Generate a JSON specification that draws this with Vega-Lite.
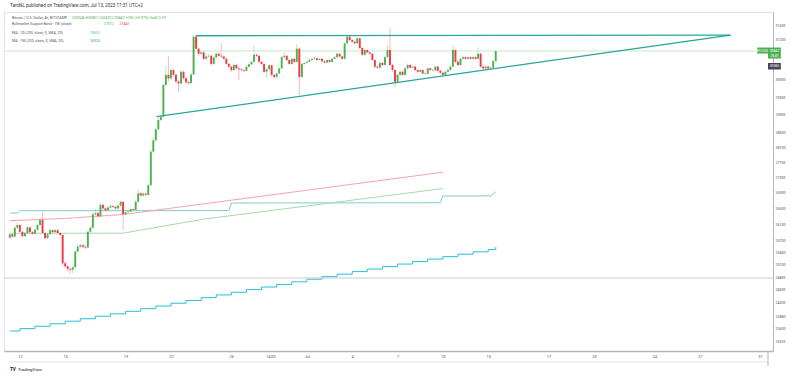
{
  "$schema": "https://vega.github.io/schema/vega-lite/v6.json",
  "autosize": "none",
  "width": 769,
  "height": 339,
  "padding": {"left": 4, "top": 12, "right": 27, "bottom": 27},
  "background": "white",
  "config": {
    "font": "Roboto",
    "view": {"stroke": "#e0e3eb", "strokeWidth": 1}
  },
  "datasets": {
    "candles": [
      {"t":"2023-06-11T08:00Z","o":25760,"h":25880,"l":25740,"c":25845},
      {"t":"2023-06-11T12:00Z","o":25845,"h":25870,"l":25770,"c":25790},
      {"t":"2023-06-11T16:00Z","o":25790,"h":26070,"l":25780,"c":26010},
      {"t":"2023-06-11T20:00Z","o":26010,"h":26150,"l":25990,"c":26080},
      {"t":"2023-06-12T00:00Z","o":26080,"h":26100,"l":25890,"c":25910},
      {"t":"2023-06-12T04:00Z","o":25910,"h":25930,"l":25760,"c":25800},
      {"t":"2023-06-12T08:00Z","o":25800,"h":25910,"l":25780,"c":25880},
      {"t":"2023-06-12T12:00Z","o":25880,"h":26060,"l":25860,"c":26020},
      {"t":"2023-06-12T16:00Z","o":26020,"h":26040,"l":25870,"c":25900},
      {"t":"2023-06-12T20:00Z","o":25900,"h":25930,"l":25830,"c":25860},
      {"t":"2023-06-13T00:00Z","o":25860,"h":25990,"l":25840,"c":25960},
      {"t":"2023-06-13T04:00Z","o":25960,"h":26110,"l":25940,"c":26080},
      {"t":"2023-06-13T08:00Z","o":26080,"h":26260,"l":26060,"c":26205},
      {"t":"2023-06-13T12:00Z","o":26205,"h":26410,"l":25850,"c":25880},
      {"t":"2023-06-13T16:00Z","o":25880,"h":25900,"l":25720,"c":25750},
      {"t":"2023-06-13T20:00Z","o":25750,"h":25880,"l":25730,"c":25850},
      {"t":"2023-06-14T00:00Z","o":25850,"h":25990,"l":25830,"c":25950},
      {"t":"2023-06-14T04:00Z","o":25950,"h":25970,"l":25870,"c":25900},
      {"t":"2023-06-14T08:00Z","o":25900,"h":25990,"l":25880,"c":25950},
      {"t":"2023-06-14T12:00Z","o":25950,"h":25990,"l":25860,"c":25880},
      {"t":"2023-06-14T16:00Z","o":25880,"h":25900,"l":25800,"c":25830},
      {"t":"2023-06-14T20:00Z","o":25830,"h":25850,"l":25080,"c":25135},
      {"t":"2023-06-15T00:00Z","o":25135,"h":25180,"l":25020,"c":25060},
      {"t":"2023-06-15T04:00Z","o":25060,"h":25090,"l":24930,"c":25000},
      {"t":"2023-06-15T08:00Z","o":25000,"h":25040,"l":24880,"c":24980},
      {"t":"2023-06-15T12:00Z","o":24980,"h":25080,"l":24900,"c":25040},
      {"t":"2023-06-15T16:00Z","o":25040,"h":25460,"l":25010,"c":25420},
      {"t":"2023-06-15T20:00Z","o":25420,"h":25600,"l":25400,"c":25540},
      {"t":"2023-06-16T00:00Z","o":25540,"h":25620,"l":25500,"c":25580},
      {"t":"2023-06-16T04:00Z","o":25580,"h":25600,"l":25500,"c":25540},
      {"t":"2023-06-16T08:00Z","o":25540,"h":25580,"l":25480,"c":25520},
      {"t":"2023-06-16T12:00Z","o":25520,"h":25950,"l":25500,"c":25910},
      {"t":"2023-06-16T16:00Z","o":25910,"h":26060,"l":25880,"c":26010},
      {"t":"2023-06-16T20:00Z","o":26010,"h":26400,"l":25990,"c":26350},
      {"t":"2023-06-17T00:00Z","o":26350,"h":26480,"l":26320,"c":26380},
      {"t":"2023-06-17T04:00Z","o":26380,"h":26420,"l":26270,"c":26300},
      {"t":"2023-06-17T08:00Z","o":26300,"h":26640,"l":26280,"c":26590},
      {"t":"2023-06-17T12:00Z","o":26590,"h":26620,"l":26470,"c":26500},
      {"t":"2023-06-17T16:00Z","o":26500,"h":26540,"l":26420,"c":26450},
      {"t":"2023-06-17T20:00Z","o":26450,"h":26560,"l":26420,"c":26520},
      {"t":"2023-06-18T00:00Z","o":26520,"h":26610,"l":26500,"c":26560},
      {"t":"2023-06-18T04:00Z","o":26560,"h":26580,"l":26510,"c":26540},
      {"t":"2023-06-18T08:00Z","o":26540,"h":26570,"l":26470,"c":26500},
      {"t":"2023-06-18T12:00Z","o":26500,"h":26600,"l":26480,"c":26570},
      {"t":"2023-06-18T16:00Z","o":26570,"h":26700,"l":26550,"c":26670},
      {"t":"2023-06-18T20:00Z","o":26670,"h":26680,"l":25950,"c":26350},
      {"t":"2023-06-19T00:00Z","o":26350,"h":26430,"l":26320,"c":26400},
      {"t":"2023-06-19T04:00Z","o":26400,"h":26450,"l":26380,"c":26420},
      {"t":"2023-06-19T08:00Z","o":26420,"h":26520,"l":26400,"c":26480},
      {"t":"2023-06-19T12:00Z","o":26480,"h":26510,"l":26430,"c":26460},
      {"t":"2023-06-19T16:00Z","o":26460,"h":26720,"l":26440,"c":26670},
      {"t":"2023-06-19T20:00Z","o":26670,"h":26990,"l":26650,"c":26890},
      {"t":"2023-06-20T00:00Z","o":26890,"h":26920,"l":26800,"c":26830},
      {"t":"2023-06-20T04:00Z","o":26830,"h":26920,"l":26800,"c":26880},
      {"t":"2023-06-20T08:00Z","o":26880,"h":26910,"l":26820,"c":26850},
      {"t":"2023-06-20T12:00Z","o":26850,"h":27150,"l":26830,"c":27100},
      {"t":"2023-06-20T16:00Z","o":27100,"h":28050,"l":27080,"c":27990},
      {"t":"2023-06-20T20:00Z","o":27990,"h":28380,"l":27950,"c":28300},
      {"t":"2023-06-21T00:00Z","o":28300,"h":28650,"l":28250,"c":28600},
      {"t":"2023-06-21T04:00Z","o":28600,"h":28920,"l":28560,"c":28860},
      {"t":"2023-06-21T08:00Z","o":28860,"h":29000,"l":28820,"c":28950},
      {"t":"2023-06-21T12:00Z","o":28950,"h":29900,"l":28920,"c":29850},
      {"t":"2023-06-21T16:00Z","o":29850,"h":30400,"l":29800,"c":30140},
      {"t":"2023-06-21T20:00Z","o":30140,"h":30700,"l":29950,"c":30040},
      {"t":"2023-06-22T00:00Z","o":30040,"h":30350,"l":30000,"c":30280},
      {"t":"2023-06-22T04:00Z","o":30280,"h":30320,"l":30080,"c":30140},
      {"t":"2023-06-22T08:00Z","o":30140,"h":30180,"l":29900,"c":29950},
      {"t":"2023-06-22T12:00Z","o":29950,"h":30000,"l":29650,"c":29890},
      {"t":"2023-06-22T16:00Z","o":29890,"h":30270,"l":29860,"c":30230},
      {"t":"2023-06-22T20:00Z","o":30230,"h":30260,"l":29990,"c":30040},
      {"t":"2023-06-23T00:00Z","o":30040,"h":30080,"l":29880,"c":29930},
      {"t":"2023-06-23T04:00Z","o":29930,"h":29980,"l":29850,"c":29900},
      {"t":"2023-06-23T08:00Z","o":29900,"h":30200,"l":29880,"c":30150},
      {"t":"2023-06-23T12:00Z","o":30150,"h":31300,"l":30120,"c":31270},
      {"t":"2023-06-23T16:00Z","o":31270,"h":31290,"l":30880,"c":30910},
      {"t":"2023-06-23T20:00Z","o":30910,"h":30950,"l":30700,"c":30760},
      {"t":"2023-06-24T00:00Z","o":30760,"h":30850,"l":30720,"c":30800},
      {"t":"2023-06-24T04:00Z","o":30800,"h":30830,"l":30570,"c":30610},
      {"t":"2023-06-24T08:00Z","o":30610,"h":30720,"l":30580,"c":30680},
      {"t":"2023-06-24T12:00Z","o":30680,"h":30750,"l":30650,"c":30700},
      {"t":"2023-06-24T16:00Z","o":30700,"h":30720,"l":30400,"c":30460},
      {"t":"2023-06-24T20:00Z","o":30460,"h":30690,"l":30430,"c":30650},
      {"t":"2023-06-25T00:00Z","o":30650,"h":30800,"l":30620,"c":30760},
      {"t":"2023-06-25T04:00Z","o":30760,"h":30800,"l":30670,"c":30700},
      {"t":"2023-06-25T08:00Z","o":30700,"h":31080,"l":30640,"c":30680},
      {"t":"2023-06-25T12:00Z","o":30680,"h":30720,"l":30580,"c":30610},
      {"t":"2023-06-25T16:00Z","o":30610,"h":30640,"l":30420,"c":30460},
      {"t":"2023-06-25T20:00Z","o":30460,"h":30490,"l":30330,"c":30380},
      {"t":"2023-06-26T00:00Z","o":30380,"h":30410,"l":30220,"c":30280},
      {"t":"2023-06-26T04:00Z","o":30280,"h":30460,"l":30250,"c":30430},
      {"t":"2023-06-26T08:00Z","o":30430,"h":30470,"l":30300,"c":30330},
      {"t":"2023-06-26T12:00Z","o":30330,"h":30380,"l":30000,"c":30300},
      {"t":"2023-06-26T16:00Z","o":30300,"h":30340,"l":30240,"c":30280},
      {"t":"2023-06-26T20:00Z","o":30280,"h":30310,"l":30220,"c":30260},
      {"t":"2023-06-27T00:00Z","o":30260,"h":30420,"l":30240,"c":30380},
      {"t":"2023-06-27T04:00Z","o":30380,"h":30480,"l":30350,"c":30450},
      {"t":"2023-06-27T08:00Z","o":30450,"h":30560,"l":30420,"c":30520},
      {"t":"2023-06-27T12:00Z","o":30520,"h":31000,"l":30500,"c":30730},
      {"t":"2023-06-27T16:00Z","o":30730,"h":30760,"l":30660,"c":30700},
      {"t":"2023-06-27T20:00Z","o":30700,"h":30720,"l":30480,"c":30520},
      {"t":"2023-06-28T00:00Z","o":30520,"h":30550,"l":30420,"c":30460},
      {"t":"2023-06-28T04:00Z","o":30460,"h":30480,"l":30200,"c":30230},
      {"t":"2023-06-28T08:00Z","o":30230,"h":30340,"l":30050,"c":30300},
      {"t":"2023-06-28T12:00Z","o":30300,"h":30450,"l":30270,"c":30420},
      {"t":"2023-06-28T16:00Z","o":30420,"h":30440,"l":30100,"c":30140},
      {"t":"2023-06-28T20:00Z","o":30140,"h":30170,"l":30020,"c":30080},
      {"t":"2023-06-29T00:00Z","o":30080,"h":30210,"l":30050,"c":30180},
      {"t":"2023-06-29T04:00Z","o":30180,"h":30360,"l":30160,"c":30330},
      {"t":"2023-06-29T08:00Z","o":30330,"h":30700,"l":30310,"c":30660},
      {"t":"2023-06-29T12:00Z","o":30660,"h":30800,"l":30630,"c":30700},
      {"t":"2023-06-29T16:00Z","o":30700,"h":30720,"l":30540,"c":30575},
      {"t":"2023-06-29T20:00Z","o":30575,"h":30600,"l":30430,"c":30460},
      {"t":"2023-06-30T00:00Z","o":30460,"h":30650,"l":30440,"c":30610},
      {"t":"2023-06-30T04:00Z","o":30610,"h":30640,"l":30490,"c":30520},
      {"t":"2023-06-30T08:00Z","o":30520,"h":31050,"l":30500,"c":30910},
      {"t":"2023-06-30T12:00Z","o":30910,"h":30950,"l":29560,"c":30080},
      {"t":"2023-06-30T16:00Z","o":30080,"h":30500,"l":30040,"c":30460},
      {"t":"2023-06-30T20:00Z","o":30460,"h":30530,"l":30430,"c":30490},
      {"t":"2023-07-01T00:00Z","o":30490,"h":30560,"l":30470,"c":30520},
      {"t":"2023-07-01T04:00Z","o":30520,"h":30610,"l":30500,"c":30575},
      {"t":"2023-07-01T08:00Z","o":30575,"h":30640,"l":30550,"c":30610},
      {"t":"2023-07-01T12:00Z","o":30610,"h":30670,"l":30590,"c":30630},
      {"t":"2023-07-01T16:00Z","o":30630,"h":30650,"l":30550,"c":30575},
      {"t":"2023-07-01T20:00Z","o":30575,"h":30640,"l":30560,"c":30610},
      {"t":"2023-07-02T00:00Z","o":30610,"h":30630,"l":30510,"c":30540},
      {"t":"2023-07-02T04:00Z","o":30540,"h":30560,"l":30470,"c":30500},
      {"t":"2023-07-02T08:00Z","o":30500,"h":30600,"l":30480,"c":30575},
      {"t":"2023-07-02T12:00Z","o":30575,"h":30590,"l":30490,"c":30520},
      {"t":"2023-07-02T16:00Z","o":30520,"h":30640,"l":30500,"c":30610},
      {"t":"2023-07-02T20:00Z","o":30610,"h":30700,"l":30590,"c":30660},
      {"t":"2023-07-03T00:00Z","o":30660,"h":30800,"l":30640,"c":30760},
      {"t":"2023-07-03T04:00Z","o":30760,"h":30780,"l":30650,"c":30680},
      {"t":"2023-07-03T08:00Z","o":30680,"h":30700,"l":30580,"c":30610},
      {"t":"2023-07-03T12:00Z","o":30610,"h":31100,"l":30590,"c":31070},
      {"t":"2023-07-03T16:00Z","o":31070,"h":31320,"l":31040,"c":31270},
      {"t":"2023-07-03T20:00Z","o":31270,"h":31300,"l":31120,"c":31170},
      {"t":"2023-07-04T00:00Z","o":31170,"h":31200,"l":31080,"c":31120},
      {"t":"2023-07-04T04:00Z","o":31120,"h":31150,"l":31030,"c":31070},
      {"t":"2023-07-04T08:00Z","o":31070,"h":31260,"l":31050,"c":31220},
      {"t":"2023-07-04T12:00Z","o":31220,"h":31240,"l":30900,"c":30930},
      {"t":"2023-07-04T16:00Z","o":30930,"h":30960,"l":30690,"c":30730},
      {"t":"2023-07-04T20:00Z","o":30730,"h":30900,"l":30700,"c":30870},
      {"t":"2023-07-05T00:00Z","o":30870,"h":30890,"l":30770,"c":30800},
      {"t":"2023-07-05T04:00Z","o":30800,"h":30830,"l":30720,"c":30760},
      {"t":"2023-07-05T08:00Z","o":30760,"h":30780,"l":30540,"c":30575},
      {"t":"2023-07-05T12:00Z","o":30575,"h":30600,"l":30340,"c":30380},
      {"t":"2023-07-05T16:00Z","o":30380,"h":30420,"l":30310,"c":30350},
      {"t":"2023-07-05T20:00Z","o":30350,"h":30520,"l":30330,"c":30490},
      {"t":"2023-07-06T00:00Z","o":30490,"h":30520,"l":30400,"c":30430},
      {"t":"2023-07-06T04:00Z","o":30430,"h":30700,"l":30410,"c":30660},
      {"t":"2023-07-06T08:00Z","o":30660,"h":31000,"l":30640,"c":30870},
      {"t":"2023-07-06T12:00Z","o":30870,"h":31530,"l":30400,"c":30430},
      {"t":"2023-07-06T16:00Z","o":30430,"h":30460,"l":30230,"c":30280},
      {"t":"2023-07-06T20:00Z","o":30280,"h":30300,"l":29800,"c":29940},
      {"t":"2023-07-07T00:00Z","o":29940,"h":30180,"l":29900,"c":30140},
      {"t":"2023-07-07T04:00Z","o":30140,"h":30270,"l":30100,"c":30230},
      {"t":"2023-07-07T08:00Z","o":30230,"h":30260,"l":30110,"c":30140},
      {"t":"2023-07-07T12:00Z","o":30140,"h":30370,"l":30120,"c":30330},
      {"t":"2023-07-07T16:00Z","o":30330,"h":30470,"l":30300,"c":30430},
      {"t":"2023-07-07T20:00Z","o":30430,"h":30450,"l":30320,"c":30350},
      {"t":"2023-07-08T00:00Z","o":30350,"h":30420,"l":30330,"c":30380},
      {"t":"2023-07-08T04:00Z","o":30380,"h":30400,"l":30250,"c":30280},
      {"t":"2023-07-08T08:00Z","o":30280,"h":30300,"l":30200,"c":30230},
      {"t":"2023-07-08T12:00Z","o":30230,"h":30310,"l":30210,"c":30280},
      {"t":"2023-07-08T16:00Z","o":30280,"h":30300,"l":30150,"c":30180},
      {"t":"2023-07-08T20:00Z","o":30180,"h":30210,"l":30140,"c":30170},
      {"t":"2023-07-09T00:00Z","o":30170,"h":30360,"l":30150,"c":30330},
      {"t":"2023-07-09T04:00Z","o":30330,"h":30350,"l":30260,"c":30280},
      {"t":"2023-07-09T08:00Z","o":30280,"h":30310,"l":30240,"c":30270},
      {"t":"2023-07-09T12:00Z","o":30270,"h":30410,"l":30250,"c":30380},
      {"t":"2023-07-09T16:00Z","o":30380,"h":30400,"l":30230,"c":30260},
      {"t":"2023-07-09T20:00Z","o":30260,"h":30280,"l":30160,"c":30200},
      {"t":"2023-07-10T00:00Z","o":30200,"h":30220,"l":30090,"c":30140},
      {"t":"2023-07-10T04:00Z","o":30140,"h":30260,"l":30110,"c":30230},
      {"t":"2023-07-10T08:00Z","o":30230,"h":30310,"l":30200,"c":30280},
      {"t":"2023-07-10T12:00Z","o":30280,"h":30420,"l":30260,"c":30380},
      {"t":"2023-07-10T16:00Z","o":30380,"h":31000,"l":30360,"c":30870},
      {"t":"2023-07-10T20:00Z","o":30870,"h":30890,"l":30480,"c":30520},
      {"t":"2023-07-11T00:00Z","o":30520,"h":30560,"l":30400,"c":30430},
      {"t":"2023-07-11T04:00Z","o":30430,"h":30640,"l":30410,"c":30610},
      {"t":"2023-07-11T08:00Z","o":30610,"h":30700,"l":30580,"c":30660},
      {"t":"2023-07-11T12:00Z","o":30660,"h":30690,"l":30580,"c":30610},
      {"t":"2023-07-11T16:00Z","o":30610,"h":30700,"l":30590,"c":30660},
      {"t":"2023-07-11T20:00Z","o":30660,"h":30690,"l":30580,"c":30610},
      {"t":"2023-07-12T00:00Z","o":30610,"h":30700,"l":30590,"c":30660},
      {"t":"2023-07-12T04:00Z","o":30660,"h":30690,"l":30580,"c":30610},
      {"t":"2023-07-12T08:00Z","o":30610,"h":30950,"l":30590,"c":30760},
      {"t":"2023-07-12T12:00Z","o":30760,"h":30790,"l":30340,"c":30380},
      {"t":"2023-07-12T16:00Z","o":30380,"h":30420,"l":30290,"c":30330},
      {"t":"2023-07-12T20:00Z","o":30330,"h":30420,"l":30300,"c":30380},
      {"t":"2023-07-13T00:00Z","o":30380,"h":30410,"l":30290,"c":30330},
      {"t":"2023-07-13T04:00Z","o":30330,"h":30390,"l":30300,"c":30350},
      {"t":"2023-07-13T08:00Z","o":30350,"h":30580,"l":30320,"c":30546},
      {"t":"2023-07-13T12:00Z","o":30546,"h":30851,"l":30470,"c":30842}
    ],
    "ma1d": [
      {"t":"2023-06-11T08:00Z","p":23546},
      {"t":"2023-06-12T00:00Z","p":23600},
      {"t":"2023-06-13T00:00Z","p":23655},
      {"t":"2023-06-14T00:00Z","p":23712},
      {"t":"2023-06-15T00:00Z","p":23770},
      {"t":"2023-06-16T00:00Z","p":23826},
      {"t":"2023-06-17T00:00Z","p":23884},
      {"t":"2023-06-18T00:00Z","p":23940},
      {"t":"2023-06-19T00:00Z","p":23998},
      {"t":"2023-06-20T00:00Z","p":24058},
      {"t":"2023-06-21T00:00Z","p":24120},
      {"t":"2023-06-22T00:00Z","p":24185},
      {"t":"2023-06-23T00:00Z","p":24250},
      {"t":"2023-06-24T00:00Z","p":24316},
      {"t":"2023-06-25T00:00Z","p":24380},
      {"t":"2023-06-26T00:00Z","p":24442},
      {"t":"2023-06-27T00:00Z","p":24505},
      {"t":"2023-06-28T00:00Z","p":24566},
      {"t":"2023-06-29T00:00Z","p":24628},
      {"t":"2023-06-30T00:00Z","p":24690},
      {"t":"2023-07-01T00:00Z","p":24752},
      {"t":"2023-07-02T00:00Z","p":24812},
      {"t":"2023-07-03T00:00Z","p":24873},
      {"t":"2023-07-04T00:00Z","p":24934},
      {"t":"2023-07-05T00:00Z","p":24995},
      {"t":"2023-07-06T00:00Z","p":25055},
      {"t":"2023-07-07T00:00Z","p":25116},
      {"t":"2023-07-08T00:00Z","p":25176},
      {"t":"2023-07-09T00:00Z","p":25236},
      {"t":"2023-07-10T00:00Z","p":25296},
      {"t":"2023-07-11T00:00Z","p":25356},
      {"t":"2023-07-12T00:00Z","p":25414},
      {"t":"2023-07-13T00:00Z","p":25470},
      {"t":"2023-07-13T12:00Z","p":25531}
    ],
    "ma1w": [
      {"t":"2023-06-11T08:00Z","p":26382},
      {"t":"2023-06-11T20:00Z","p":26382},
      {"t":"2023-06-12T00:00Z","p":26440},
      {"t":"2023-06-25T20:00Z","p":26445},
      {"t":"2023-06-26T00:00Z","p":26638},
      {"t":"2023-07-09T20:00Z","p":26645},
      {"t":"2023-07-10T00:00Z","p":26818},
      {"t":"2023-07-13T04:00Z","p":26822},
      {"t":"2023-07-13T12:00Z","p":26925}
    ],
    "bmsb": [
      {"t":"2023-06-11T08:00Z","p":26187,"s":"sma"},
      {"t":"2023-06-14T22:00Z","p":26243,"s":"sma"},
      {"t":"2023-06-18T20:00Z","p":26344,"s":"sma"},
      {"t":"2023-06-24T02:00Z","p":26612,"s":"sma"},
      {"t":"2023-07-10T00:00Z","p":27441,"s":"sma"},
      {"t":"2023-06-11T08:00Z","p":25871,"s":"ema"},
      {"t":"2023-06-18T20:00Z","p":25875,"s":"ema"},
      {"t":"2023-06-24T02:00Z","p":26223,"s":"ema"},
      {"t":"2023-07-10T00:00Z","p":27012,"s":"ema"}
    ],
    "trend": [
      {"t":"2023-06-23T15:36Z","p":31299,"line":"upper"},
      {"t":"2023-07-29T01:00Z","p":31320,"line":"upper"},
      {"t":"2023-06-21T00:54Z","p":28949,"line":"lower"},
      {"t":"2023-07-29T01:00Z","p":31320,"line":"lower"}
    ]
  },
  "layer": [
    {
      "data": {"name": "candles"},
      "mark": {"type": "rule", "strokeWidth": 1, "opacity": 0.35},
      "encoding": {
        "x": {"field": "t", "type": "temporal", "title": null,
          "scale": {"type": "utc", "domain": [{"year":2023,"month":6,"date":11,"hours":6,"minutes":45,"utc":true},{"year":2023,"month":7,"date":31,"hours":12,"minutes":33,"utc":true}]},
          "axis": {"orient": "bottom", "labelFontSize": 4, "labelPadding": 3, "labelColor": "#50535e", "labelFont": "Roboto", "domainColor": "#b2b5be", "domainWidth": 1.5, "ticks": false, "grid": false, "labelOverlap": false,
            "values": [
              {"year":2023,"month":6,"date":12,"utc":true},{"year":2023,"month":6,"date":15,"utc":true},{"year":2023,"month":6,"date":19,"utc":true},{"year":2023,"month":6,"date":22,"utc":true},{"year":2023,"month":6,"date":26,"utc":true},{"year":2023,"month":6,"date":28,"hours":14,"utc":true},{"year":2023,"month":7,"date":1,"utc":true},{"year":2023,"month":7,"date":4,"utc":true},{"year":2023,"month":7,"date":7,"utc":true},{"year":2023,"month":7,"date":10,"utc":true},{"year":2023,"month":7,"date":13,"utc":true},{"year":2023,"month":7,"date":17,"utc":true},{"year":2023,"month":7,"date":20,"utc":true},{"year":2023,"month":7,"date":24,"utc":true},{"year":2023,"month":7,"date":27,"utc":true},{"year":2023,"month":7,"date":31,"utc":true}],
            "labelExpr": "utcdate(datum.value) == 1 && utchours(datum.value) == 0 ? 'Jul' : (utchours(datum.value) == 14 ? '14:00' : utcFormat(datum.value, '%-d'))"}},
        "y": {"field": "l", "type": "quantitative", "title": null,
          "scale": {"type": "log", "domain": [23097, 32023], "nice": false, "zero": false},
          "axis": {"orient": "right", "labelFontSize": 3.6, "labelPadding": 2, "labelColor": "#50535e", "labelFont": "Roboto", "domainColor": "#b2b5be", "format": "d", "ticks": false, "grid": false, "labelOverlap": false,
            "values": [31600, 31200, 30000, 29500, 29000, 28500, 28100, 27700, 27300, 26900, 26500, 26100, 25700, 25400, 25100, 24800, 24500, 24200, 23880, 23600, 23320]}},
        "y2": {"field": "h"},
        "color": {"condition": {"test": "datum.c >= datum.o", "value": "#4caf50"}, "value": "#f23645"}
      }
    },
    {
      "data": {"name": "ma1d"},
      "mark": {"type": "line", "interpolate": "step-after", "strokeWidth": 1, "color": "#22c1d6"},
      "encoding": {
        "x": {"field": "t", "type": "temporal", "title": null},
        "y": {"field": "p", "type": "quantitative", "title": null}
      }
    },
    {
      "data": {"name": "ma1w"},
      "mark": {"type": "line", "strokeWidth": 1, "color": "#7fcdc4"},
      "encoding": {
        "x": {"field": "t", "type": "temporal", "title": null},
        "y": {"field": "p", "type": "quantitative", "title": null}
      }
    },
    {
      "data": {"name": "bmsb"},
      "mark": {"type": "line", "strokeWidth": 1},
      "encoding": {
        "x": {"field": "t", "type": "temporal", "title": null},
        "y": {"field": "p", "type": "quantitative", "title": null},
        "color": {"field": "s", "type": "nominal", "legend": null, "scale": {"domain": ["sma", "ema"], "range": ["#f5a3a8", "#a8d8a9"]}}
      }
    },
    {
      "data": {"values": [{}]},
      "mark": {"type": "rule", "color": "#c9cbd1", "strokeWidth": 1},
      "encoding": {"y": {"datum": 24781}}
    },
    {
      "data": {"values": [{}]},
      "mark": {"type": "rule", "color": "#c8e6c9", "strokeWidth": 1},
      "encoding": {"y": {"datum": 30842}}
    },
    {
      "data": {"name": "trend"},
      "mark": {"type": "line", "strokeWidth": 1.3, "color": "#26a69a"},
      "encoding": {
        "x": {"field": "t", "type": "temporal", "title": null},
        "y": {"field": "p", "type": "quantitative", "title": null},
        "detail": {"field": "line"}
      }
    },
    {
      "data": {"name": "candles"},
      "mark": {"type": "bar", "width": 1.9},
      "encoding": {
        "x": {"field": "t", "type": "temporal", "title": null},
        "y": {"field": "o", "type": "quantitative", "title": null},
        "y2": {"field": "c"},
        "color": {"condition": {"test": "datum.c >= datum.o", "value": "#4caf50"}, "value": "#f23645"}
      }
    },
    {
      "data": {"values": [{}]},
      "layer": [
        {"mark": {"type": "text", "align": "left", "baseline": "middle", "fontSize": 4.6, "color": "#333333"},
         "encoding": {"x": {"datum": {"year":2023,"month":6,"date":11,"hours":8,"minutes":19,"utc":true}}, "y": {"datum": 32208}, "text": {"value": "TaroNL published on TradingView.com, Jul 13, 2023 17:31 UTC+2"}}},
        {"mark": {"type": "text", "align": "left", "baseline": "middle", "fontSize": 3.6, "color": "#555555"},
         "encoding": {"x": {"datum": {"year":2023,"month":6,"date":11,"hours":11,"minutes":28,"utc":true}}, "y": {"datum": 31838}, "text": {"value": "Bitcoin / U.S. Dollar, 4h, BITSTAMP"}}},
        {"mark": {"type": "text", "align": "left", "baseline": "middle", "fontSize": 3.6, "color": "#4caf50"},
         "encoding": {"x": {"datum": {"year":2023,"month":6,"date":15,"hours":11,"minutes":6,"utc":true}}, "y": {"datum": 31838}, "text": {"value": "O30546 H30851 L30470 C30842 +296 (+0.97%) Vol412.39"}}},
        {"mark": {"type": "text", "align": "left", "baseline": "middle", "fontSize": 3.6, "color": "#555555"},
         "encoding": {"x": {"datum": {"year":2023,"month":6,"date":11,"hours":11,"minutes":28,"utc":true}}, "y": {"datum": 31645}, "text": {"value": "Bullmarket Support Band - 1W (close)"}}},
        {"mark": {"type": "text", "align": "left", "baseline": "middle", "fontSize": 3.6, "color": "#4caf50"},
         "encoding": {"x": {"datum": {"year":2023,"month":6,"date":17,"hours":13,"minutes":17,"utc":true}}, "y": {"datum": 31645}, "text": {"value": "27012"}}},
        {"mark": {"type": "text", "align": "left", "baseline": "middle", "fontSize": 3.6, "color": "#f23645"},
         "encoding": {"x": {"datum": {"year":2023,"month":6,"date":18,"hours":14,"minutes":22,"utc":true}}, "y": {"datum": 31645}, "text": {"value": "27441"}}},
        {"mark": {"type": "text", "align": "left", "baseline": "middle", "fontSize": 3.6, "color": "#555555"},
         "encoding": {"x": {"datum": {"year":2023,"month":6,"date":11,"hours":11,"minutes":28,"utc":true}}, "y": {"datum": 31372}, "text": {"value": "MA - 1D (200, close, 0, SMA, 20)"}}},
        {"mark": {"type": "text", "align": "left", "baseline": "middle", "fontSize": 3.6, "color": "#22c1d6"},
         "encoding": {"x": {"datum": {"year":2023,"month":6,"date":16,"hours":15,"minutes":20,"utc":true}}, "y": {"datum": 31372}, "text": {"value": "25531"}}},
        {"mark": {"type": "text", "align": "left", "baseline": "middle", "fontSize": 3.6, "color": "#555555"},
         "encoding": {"x": {"datum": {"year":2023,"month":6,"date":11,"hours":11,"minutes":28,"utc":true}}, "y": {"datum": 31149}, "text": {"value": "MA - 1W (200, close, 0, SMA, 20)"}}},
        {"mark": {"type": "text", "align": "left", "baseline": "middle", "fontSize": 3.6, "color": "#26a69a"},
         "encoding": {"x": {"datum": {"year":2023,"month":6,"date":16,"hours":15,"minutes":20,"utc":true}}, "y": {"datum": 31149}, "text": {"value": "26925"}}},
        {"mark": {"type": "rect", "color": "#4caf50"},
         "encoding": {"x": {"datum": {"year":2023,"month":7,"date":30,"hours":19,"minutes":18,"utc":true}}, "x2": {"datum": {"year":2023,"month":7,"date":31,"hours":12,"minutes":33,"utc":true}}, "y": {"datum": 30945}, "y2": {"datum": 30767}}},
        {"mark": {"type": "text", "align": "center", "baseline": "middle", "fontSize": 3.2, "color": "white"},
         "encoding": {"x": {"datum": {"year":2023,"month":7,"date":31,"hours":3,"minutes":56,"utc":true}}, "y": {"datum": 30856}, "text": {"value": "BTCUSD"}}},
        {"mark": {"type": "rect", "color": "#4caf50"},
         "encoding": {"x": {"datum": {"year":2023,"month":7,"date":31,"hours":12,"minutes":33,"utc":true}}, "x2": {"datum": {"year":2023,"month":8,"date":1,"hours":8,"minutes":56,"utc":true}}, "y": {"datum": 30945}, "y2": {"datum": 30619}}},
        {"mark": {"type": "text", "align": "center", "baseline": "middle", "fontSize": 3.4, "color": "white"},
         "encoding": {"x": {"datum": {"year":2023,"month":7,"date":31,"hours":22,"minutes":44,"utc":true}}, "y": {"datum": 30842}, "text": {"value": "30842"}}},
        {"mark": {"type": "text", "align": "center", "baseline": "middle", "fontSize": 3.2, "color": "white"},
         "encoding": {"x": {"datum": {"year":2023,"month":7,"date":31,"hours":22,"minutes":44,"utc":true}}, "y": {"datum": 30693}, "text": {"value": "28:49"}}},
        {"mark": {"type": "rect", "color": "#434651"},
         "encoding": {"x": {"datum": {"year":2023,"month":7,"date":31,"hours":12,"minutes":33,"utc":true}}, "x2": {"datum": {"year":2023,"month":8,"date":1,"hours":8,"minutes":56,"utc":true}}, "y": {"datum": 30487}, "y2": {"datum": 30296}}},
        {"mark": {"type": "text", "align": "center", "baseline": "middle", "fontSize": 3.4, "color": "white"},
         "encoding": {"x": {"datum": {"year":2023,"month":7,"date":31,"hours":22,"minutes":44,"utc":true}}, "y": {"datum": 30393}, "text": {"value": "30585"}}},
        {"mark": {"type": "rule", "color": "#e0e3eb", "strokeWidth": 1},
         "encoding": {"x": {"datum": {"year":2023,"month":6,"date":11,"hours":6,"minutes":45,"utc":true}}, "x2": {"datum": {"year":2023,"month":7,"date":31,"hours":12,"minutes":33,"utc":true}}, "y": {"datum": 22854}}},
        {"mark": {"type": "rule", "color": "#b2b5be", "strokeWidth": 1},
         "encoding": {"x": {"datum": {"year":2023,"month":7,"date":31,"hours":12,"minutes":33,"utc":true}}, "y": {"datum": 23097}, "y2": {"datum": 22765}}},
        {"mark": {"type": "text", "align": "left", "baseline": "middle", "fontSize": 4.6, "fontWeight": "bold", "color": "#131722"},
         "encoding": {"x": {"datum": {"year":2023,"month":6,"date":11,"hours":8,"minutes":19,"utc":true}}, "y": {"datum": 22678}, "text": {"value": "TV"}}},
        {"mark": {"type": "text", "align": "left", "baseline": "middle", "fontSize": 4.4, "color": "#131722"},
         "encoding": {"x": {"datum": {"year":2023,"month":6,"date":11,"hours":20,"minutes":54,"utc":true}}, "y": {"datum": 22678}, "text": {"value": "TradingView"}}}
      ]
    }
  ]
}
